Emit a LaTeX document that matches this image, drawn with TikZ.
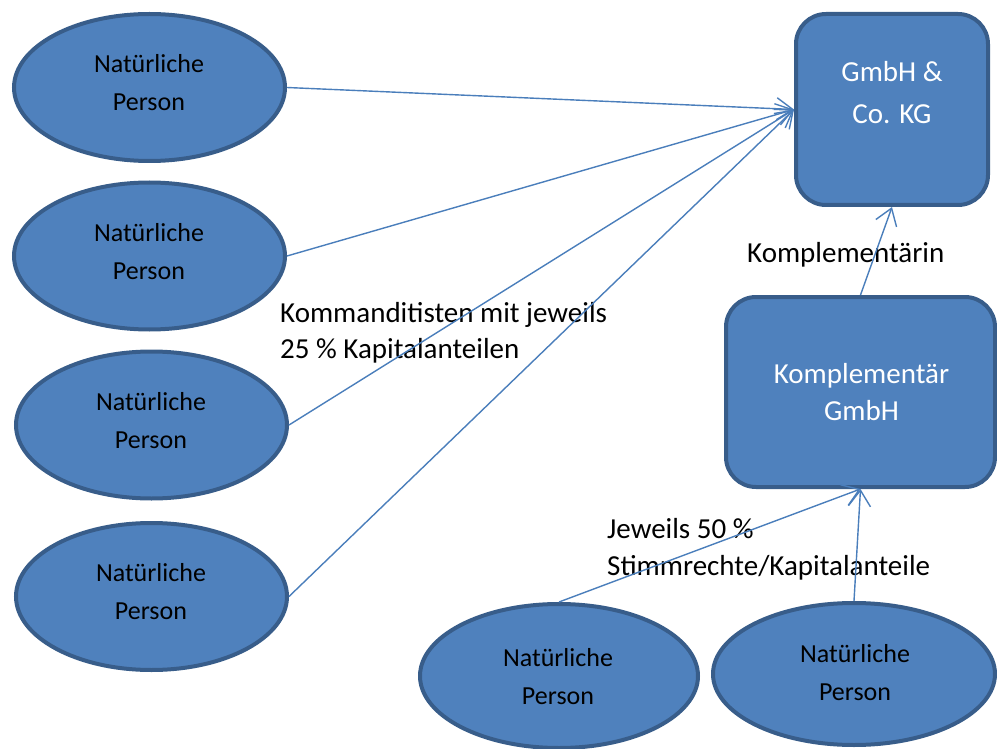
\documentclass[tikz,border=0pt]{standalone}
\usepackage{fontspec}
\setmainfont{Carlito}
\usetikzlibrary{arrows.meta,shapes.geometric}
\definecolor{fillc}{HTML}{4F81BD}
\definecolor{linec}{HTML}{385D8A}
\definecolor{arrowc}{HTML}{4A7EBB}
\newcommand\natp{\begin{tabular}[t]{@{}c@{}}Natürliche\\Person\end{tabular}}
\begin{document}
\begin{tikzpicture}[x=1pt,y=-1pt,
  person/.style={ellipse, draw=linec, fill=fillc, line width=4pt, inner sep=0pt},
  firm/.style={rectangle, rounded corners=30pt, draw=linec, fill=fillc, line width=4pt, inner sep=0pt},
  ptext/.style={anchor=base, font=\fontsize{26}{38}\selectfont, inner sep=0pt},
  ftext/.style={anchor=base, text=white, inner sep=0pt},
  ltext/.style={anchor=base west, font=\fontsize{29}{36}\selectfont, inner sep=0pt},
  conn/.style={draw=arrowc, line width=1.4pt, -{Straight Barb[length=16pt,width=22pt]}}]
\useasboundingbox (0,0) rectangle (997,749);

% persons (Kommanditisten)
\node[person, minimum width=271pt, minimum height=147pt] (e1) at (149.5,87.5) {};
\node[person, minimum width=271pt, minimum height=147pt] (e2) at (149.5,256) {};
\node[person, minimum width=271pt, minimum height=147pt] (e3) at (151.5,425) {};
\node[person, minimum width=271pt, minimum height=147pt] (e4) at (151.5,596.5) {};
% persons (Gesellschafter der Komplementär GmbH)
\node[person, minimum width=278pt, minimum height=144pt] (b1) at (559,676) {};
\node[person, minimum width=282pt, minimum height=142pt] (b2) at (854,674) {};

% companies
\node[firm, minimum width=192pt, minimum height=191pt] (kg) at (892,109.5) {};
\node[firm, minimum width=269pt, minimum height=190pt] (kc) at (860.5,392) {};

% texts in shapes
\node[ptext] (e1t) at (149,73) {\natp};
\node[ptext] (e2t) at (149,241.5) {\natp};
\node[ptext] (e3t) at (151,410.5) {\natp};
\node[ptext] (e4t) at (151,581) {\natp};
\node[ptext] (b1t) at (558,666) {\natp};
\node[ptext] (b2t) at (855,662) {\natp};
\node[ftext, font=\fontsize{29}{42}\selectfont] (kgt) at (892,82)
  {\begin{tabular}[t]{@{}c@{}}GmbH \&\\Co. KG\end{tabular}};
\node[ftext, font=\fontsize{29}{37}\selectfont] (kct) at (861.5,383)
  {\begin{tabular}[t]{@{}c@{}}Komplementär\\GmbH\end{tabular}};

% labels
\node[ltext] (l1) at (280,322)
  {\begin{tabular}[t]{@{}l@{}}Kommanditisten mit jeweils\\25 \% Kapitalanteilen\end{tabular}};
\node[ltext] (l2) at (747,262) {Komplementärin};
\node[ltext, font=\fontsize{29}{37}\selectfont] (l3) at (607,538)
  {\begin{tabular}[t]{@{}l@{}}Jeweils 50 \%\\Stimmrechte/Kapitalanteile\end{tabular}};

% connectors
\draw[conn] (e1.east) -- (kg.west);
\draw[conn] (e2.east) -- (kg.west);
\draw[conn] (e3.east) -- (kg.west);
\draw[conn] (e4.east) -- (kg.west);
\draw[conn] (kc.north) -- (kg.south);
\draw[conn] (b1.north) -- (kc.south);
\draw[conn] (b2.north) -- (kc.south);
\end{tikzpicture}
\end{document}
